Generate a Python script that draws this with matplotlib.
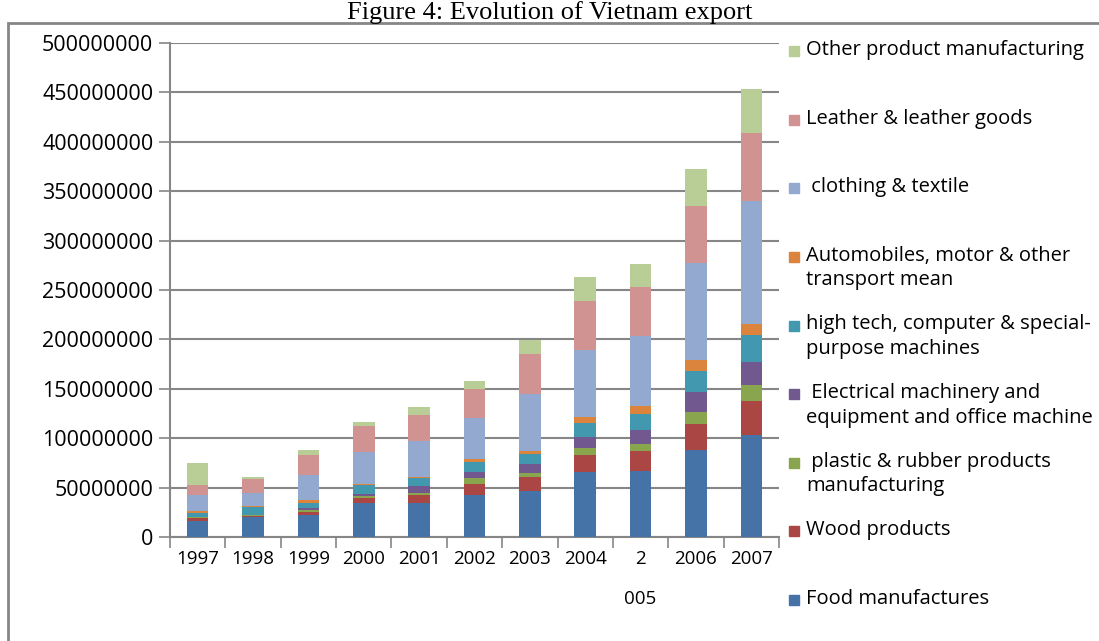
import numpy as np
import matplotlib
matplotlib.use('Agg')
import matplotlib.pyplot as plt
from matplotlib.patches import Rectangle

plt.rcParams['font.family'] = ['Open Sans', 'DejaVu Sans']

years = ['1997', '1998', '1999', '2000', '2001', '2002', '2003', '2004', '2\n005', '2006', '2007']

# export values by sector
food = [16, 20.6, 22, 34.8, 34.8, 42.6, 46.5, 66, 66.5, 88, 103.5]
wood = [3, 1, 3.7, 5, 8.1, 11.1, 14, 16.7, 21, 26.7, 33.7]
plastic = [1, 0.7, 2, 2, 2, 6, 4, 7, 7, 12, 16.8]
electrical = [0.7, 0.3, 2, 2, 7.1, 6.1, 9, 12, 14, 20, 23.6]
hightech = [4, 7.4, 5, 9.1, 8.1, 10, 11, 14, 16, 21, 27]
auto = [1.3, 1, 3, 0.5, 1, 3, 3, 6, 8, 11, 11]
clothing = [16.2, 13.9, 25.4, 32.4, 36.5, 41.5, 57.5, 67.5, 70.5, 99, 124]
leather = [10.8, 13.5, 20.3, 26.4, 25.4, 29, 40, 50, 50, 57.5, 69]
other = [22.3, 2.7, 5.1, 4, 8.1, 8.2, 14, 23.5, 23.5, 37, 45]

series = [
    ('Food manufactures', food, '#4572A7'),
    ('Wood products', wood, '#AA4643'),
    (' plastic & rubber products\nmanufacturing', plastic, '#89A54E'),
    (' Electrical machinery and\nequipment and office machine', electrical, '#71588F'),
    ('high tech, computer & special-\npurpose machines', hightech, '#4198AF'),
    ('Automobiles, motor & other\ntransport mean', auto, '#DB843D'),
    (' clothing & textile', clothing, '#93A9CF'),
    ('Leather & leather goods', leather, '#D19392'),
    ('Other product manufacturing', other, '#B9CD96'),
]

fig = plt.figure(figsize=(10.99, 6.41), dpi=100)
ax = fig.add_axes([170 / 1099, 1 - 537 / 641, 609 / 1099, 494 / 641])

x = np.arange(len(years))
bottom = np.zeros(len(years))
for name, vals, col in series:
    v = np.array(vals) * 1e6
    ax.bar(x, v, 0.39, bottom=bottom, color=col, zorder=3)
    bottom += v

ax.set_ylim(0, 500e6)
ax.set_xlim(-0.5, len(years) - 0.5)
yt = np.arange(0, 500e6 + 1, 50e6)
ax.set_yticks(yt)
ax.set_yticklabels([str(int(t)) for t in yt])
ax.yaxis.grid(True, color='#868686', linewidth=1.5, zorder=0)
ax.set_xticks(np.arange(-0.5, len(years)), minor=False)
ax.set_xticklabels([])
ax.set_xticks(x, minor=True)
ax.set_xticklabels(years, minor=True)
ax.tick_params(axis='x', which='major', length=8, color='#868686', width=1.2, direction='out')
ax.tick_params(axis='x', which='minor', length=0, pad=9, labelsize=13.5)
ax.tick_params(axis='y', length=8, color='#868686', width=1.2, labelsize=15.5, pad=4)
for t in ax.get_xticklabels(minor=True):
    t.set_verticalalignment('top')
    t.set_linespacing(2.6)
for s in ['top', 'right']:
    ax.spines[s].set_visible(False)
for s in ['left', 'bottom']:
    ax.spines[s].set_color('#868686')
    ax.spines[s].set_linewidth(1.5)

# legend drawn by hand, top entry first
leg_y = np.linspace(51, 600, len(series))
for (name, vals, col), yy in zip(series[::-1], leg_y):
    fig.patches.append(Rectangle((789 / 1099, 1 - (yy + 5) / 641), 10 / 1099, 10 / 641,
                                 transform=fig.transFigure, color=col))
    fig.text(806 / 1099, 1 - (yy - 11) / 641, name, fontsize=14.5, va='top', ha='left',
             linespacing=1.3)

# outer frame
fig.patches.append(Rectangle((8 / 1099, -0.01), 1.1, 1 - 23 / 641 + 0.01, transform=fig.transFigure,
                             fill=False, edgecolor='#868686', linewidth=2))

fig.text(0.5, 1 - 1 / 641, 'Figure 4: Evolution of Vietnam export', ha='center', va='top',
         fontsize=19, family='Liberation Serif')

fig.savefig('out.png', dpi=100)
